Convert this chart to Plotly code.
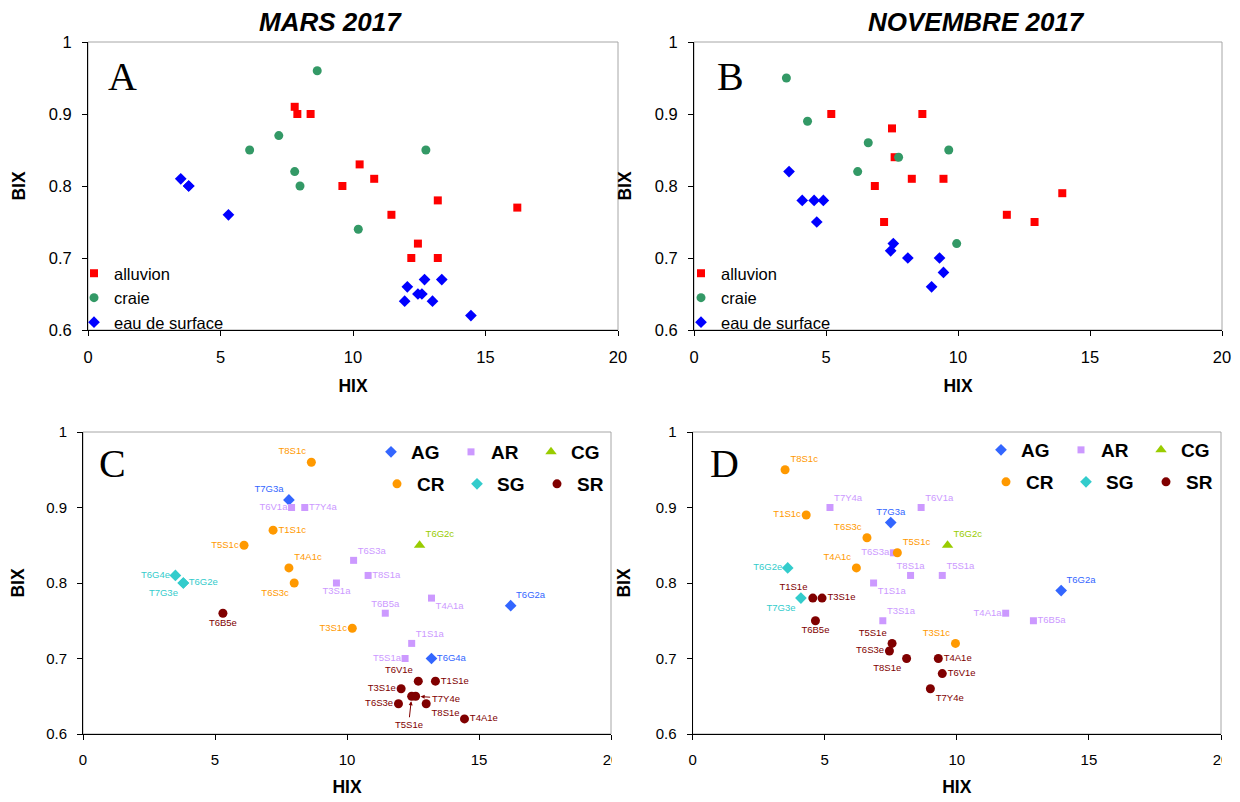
import plotly.graph_objects as go

W, H = 1240, 802
PAGE_OFFSET = 8  # default body margin of the written html page
FONT = "Liberation Sans, Arial, sans-serif"
NARROW = "Liberation Sans Narrow, Arial Narrow, Liberation Sans, Arial, sans-serif"
SERIF = "Liberation Serif, Times New Roman, serif"

# ---- MARS 2017 (HIX, BIX) ----
mars_ag_names = ["T7G3a", "T6G2a", "T6G4a"]
mars_ag_hix = [7.8, 16.2, 13.2]
mars_ag_bix = [0.91, 0.77, 0.70]

mars_ar_names = ["T6V1a", "T7Y4a", "T6S3a", "T8S1a", "T3S1a", "T6B5a", "T4A1a", "T1S1a", "T5S1a"]
mars_ar_hix = [7.9, 8.4, 10.25, 10.8, 9.6, 11.45, 13.2, 12.45, 12.2]
mars_ar_bix = [0.90, 0.90, 0.83, 0.81, 0.80, 0.76, 0.78, 0.72, 0.70]

mars_cg_names = ["T6G2c"]
mars_cg_hix = [12.75]
mars_cg_bix = [0.85]

mars_cr_names = ["T8S1c", "T1S1c", "T5S1c", "T4A1c", "T6S3c", "T3S1c"]
mars_cr_hix = [8.65, 7.2, 6.1, 7.8, 8.0, 10.2]
mars_cr_bix = [0.96, 0.87, 0.85, 0.82, 0.80, 0.74]

mars_sg_names = ["T6G4e", "T6G2e", "T7G3e"]
mars_sg_hix = [3.5, 3.8, 3.8]
mars_sg_bix = [0.81, 0.80, 0.80]

mars_sr_names = ["T6B5e", "T6V1e", "T1S1e", "T3S1e", "T7Y4e", "T5S1e", "T6S3e", "T8S1e", "T4A1e"]
mars_sr_hix = [5.3, 12.7, 13.35, 12.05, 12.6, 12.45, 11.95, 13.0, 14.45]
mars_sr_bix = [0.76, 0.67, 0.67, 0.66, 0.65, 0.65, 0.64, 0.64, 0.62]

# ---- NOVEMBRE 2017 (HIX, BIX) ----
nov_ag_names = ["T7G3a", "T6G2a"]
nov_ag_hix = [7.5, 13.95]
nov_ag_bix = [0.88, 0.79]

nov_ar_names = ["T7Y4a", "T6V1a", "T6S3a", "T8S1a", "T5S1a", "T1S1a", "T3S1a", "T4A1a", "T6B5a"]
nov_ar_hix = [5.2, 8.65, 7.6, 8.25, 9.45, 6.85, 7.2, 11.85, 12.9]
nov_ar_bix = [0.90, 0.90, 0.84, 0.81, 0.81, 0.80, 0.75, 0.76, 0.75]

nov_cg_names = ["T6G2c"]
nov_cg_hix = [9.65]
nov_cg_bix = [0.85]

nov_cr_names = ["T8S1c", "T1S1c", "T6S3c", "T5S1c", "T4A1c", "T3S1c"]
nov_cr_hix = [3.5, 4.3, 6.6, 7.75, 6.2, 9.95]
nov_cr_bix = [0.95, 0.89, 0.86, 0.84, 0.82, 0.72]

nov_sg_names = ["T6G2e", "T7G3e"]
nov_sg_hix = [3.6, 4.1]
nov_sg_bix = [0.82, 0.78]

nov_sr_names = ["T1S1e", "T3S1e", "T6B5e", "T5S1e", "T6S3e", "T8S1e", "T4A1e", "T6V1e", "T7Y4e"]
nov_sr_hix = [4.55, 4.9, 4.65, 7.55, 7.45, 8.1, 9.3, 9.45, 9.0]
nov_sr_bix = [0.78, 0.78, 0.75, 0.72, 0.71, 0.70, 0.70, 0.68, 0.66]

x_ticks = [0, 5, 10, 15, 20]
y_ticks = [0.6, 0.7, 0.8, 0.9, 1.0]
y_ticktext = ["0.6", "0.7", "0.8", "0.9", "1"]

# label placement (style only)
mars_pos = {
    "T7G3a": "top left", "T6G2a": "top right", "T6G4a": "middle right",
    "T6V1a": "middle left", "T7Y4a": "middle right", "T6S3a": "top right",
    "T8S1a": "middle right", "T3S1a": "bottom center", "T6B5a": "top center",
    "T4A1a": "bottom right", "T1S1a": "top right", "T5S1a": "middle left",
    "T6G2c": "top right",
    "T8S1c": "top left", "T1S1c": "middle right", "T5S1c": "middle left",
    "T4A1c": "top right", "T6S3c": "bottom left", "T3S1c": "middle left",
    "T6G4e": "middle left", "T6G2e": "middle right", "T7G3e": "bottom left",
    "T6B5e": "bottom center", "T6V1e": "top left", "T1S1e": "middle right",
    "T3S1e": "middle left", "T6S3e": "middle left", "T8S1e": "bottom right",
    "T4A1e": "middle right",
}
mars_arrows = {"T7Y4e": (30, 2), "T5S1e": (-3, 28)}

nov_pos = {
    "T7G3a": "top center", "T6G2a": "top right",
    "T7Y4a": "top right", "T6V1a": "top right", "T6S3a": "middle left",
    "T8S1a": "top center", "T5S1a": "top right", "T1S1a": "bottom right",
    "T3S1a": "top right", "T4A1a": "middle left", "T6B5a": "middle right",
    "T6G2c": "top right",
    "T8S1c": "top right", "T1S1c": "middle left", "T6S3c": "top left",
    "T5S1c": "top right", "T4A1c": "top left", "T3S1c": "top left",
    "T6G2e": "middle left", "T7G3e": "bottom left",
    "T1S1e": "top left", "T3S1e": "middle right", "T6B5e": "bottom center",
    "T5S1e": "top left", "T6S3e": "middle left", "T8S1e": "bottom left",
    "T4A1e": "middle right", "T6V1e": "middle right", "T7Y4e": "bottom right",
}

COL = {"AG": "#3366FF", "AR": "#CC99FF", "CG": "#99CC00",
       "CR": "#FF9900", "SG": "#33CCCC", "SR": "#800000"}
SYM = {"AG": ("diamond", 9), "AR": ("square", 7), "CG": ("triangle-up", 10),
       "CR": ("circle", 9), "SG": ("diamond", 9), "SR": ("circle", 9)}


def fx(p):
    return (p - PAGE_OFFSET) / W


def fy(p):
    return 1 - (p - PAGE_OFFSET) / H


fig = go.Figure()

# ---- panels A and B: grouped by water type ----
for season, xa, ya, leg in [("mars", "x", "y", "legend"), ("nov", "x2", "y2", "legend2")]:
    g = globals()
    groups = [
        ("alluvion", g[season + "_ag_hix"] + g[season + "_ar_hix"],
         g[season + "_ag_bix"] + g[season + "_ar_bix"], "square", 8, "#FF0000"),
        ("craie", g[season + "_cg_hix"] + g[season + "_cr_hix"],
         g[season + "_cg_bix"] + g[season + "_cr_bix"], "circle", 9, "#339966"),
        ("eau de surface", g[season + "_sg_hix"] + g[season + "_sr_hix"],
         g[season + "_sg_bix"] + g[season + "_sr_bix"], "diamond", 9, "#0000FF"),
    ]
    for name, hx, bx, sym, size, col in groups:
        fig.add_trace(go.Scatter(
            x=hx, y=bx, mode="markers", name=name, xaxis=xa, yaxis=ya,
            marker=dict(symbol=sym, size=size, color=col), legend=leg,
        ))

# ---- panels C and D: individual samples ----
for season, xa, ya, legs, pos in [("mars", "x3", "y3", ("legend3", "legend4"), mars_pos),
                                  ("nov", "x4", "y4", ("legend5", "legend6"), nov_pos)]:
    g = globals()
    for i, grp in enumerate(["AG", "AR", "CG", "CR", "SG", "SR"]):
        names = g[f"{season}_{grp.lower()}_names"]
        hx = g[f"{season}_{grp.lower()}_hix"]
        bx = g[f"{season}_{grp.lower()}_bix"]
        sym, size = SYM[grp]
        fig.add_trace(go.Scatter(
            x=hx, y=bx, mode="markers", name=f"<b>{grp}</b>", xaxis=xa, yaxis=ya,
            marker=dict(symbol=sym, size=size, color=COL[grp]),
            legend=legs[0] if i < 3 else legs[1],
        ))
        # sample labels (invisible marker keeps the text off the point)
        keep = [j for j, n in enumerate(names) if n in pos]
        fig.add_trace(go.Scatter(
            x=[hx[j] for j in keep], y=[bx[j] for j in keep],
            text=[names[j] for j in keep],
            textposition=[pos[names[j]] for j in keep],
            mode="markers+text", xaxis=xa, yaxis=ya, showlegend=False, cliponaxis=False,
            marker=dict(symbol=sym, size=size - 2, opacity=0),
            textfont=dict(family=NARROW, size=9.5, color=COL[grp]),
        ))

annotations = []
# arrowed labels in panel C
for n, (ax, ay) in mars_arrows.items():
    j = mars_sr_names.index(n)
    annotations.append(dict(
        x=mars_sr_hix[j], y=mars_sr_bix[j], xref="x3", yref="y3", text=n,
        showarrow=True, ax=ax, ay=ay, arrowhead=2, arrowsize=0.8, arrowwidth=1,
        arrowcolor=COL["SR"], standoff=5,
        font=dict(family=NARROW, size=9.5, color=COL["SR"]),
    ))

# season titles
for txt, px in [("MARS 2017", 330), ("NOVEMBRE 2017", 976)]:
    annotations.append(dict(x=fx(px), y=fy(22), xref="paper", yref="paper", showarrow=False,
                            xanchor="center", yanchor="middle", text=f"<b><i>{txt}</i></b>",
                            font=dict(family=FONT, size=26, color="black")))

# panel letters
for letter, px, py in [("A", 122, 76), ("B", 730, 76), ("C", 113, 463), ("D", 724, 463)]:
    annotations.append(dict(x=fx(px), y=fy(py), xref="paper", yref="paper", showarrow=False,
                            xanchor="center", yanchor="middle",
                            text=letter, font=dict(family=SERIF, size=40, color="black")))

shapes = []
for xa, ya in [("x", "y"), ("x2", "y2"), ("x3", "y3"), ("x4", "y4")]:
    shapes.append(dict(type="rect", xref=f"{xa} domain", yref=f"{ya} domain",
                       x0=0, x1=1, y0=0, y1=1, line=dict(color="#A6A6A6", width=1), layer="below"))
# cropped "20" labels of the lower panels
shapes.append(dict(type="rect", xref="paper", yref="paper", x0=fx(612), x1=fx(650),
                   y0=fy(775), y1=fy(738), fillcolor="white", line=dict(width=0), layer="above"))
shapes.append(dict(type="rect", xref="paper", yref="paper", x0=fx(1222), x1=1,
                   y0=fy(775), y1=fy(738), fillcolor="white", line=dict(width=0), layer="above"))


def xax(dom, anchor, fam, size, standoff):
    return dict(domain=dom, anchor=anchor, range=[0, 20], tickvals=x_ticks, ticks="outside",
                ticklen=5, tickcolor="black", showgrid=False, zeroline=False, showline=True,
                linecolor="black", linewidth=1, ticklabelstandoff=7, automargin=False,
                tickfont=dict(family=fam, size=size, color="black"),
                title=dict(text="<b>HIX</b>", standoff=standoff,
                           font=dict(family=fam, size=17.5, color="black")))


def yax(dom, anchor, fam, size, standoff):
    return dict(domain=dom, anchor=anchor, range=[0.6, 1.0], tickvals=y_ticks, ticktext=y_ticktext,
                ticks="outside", ticklen=5, tickcolor="black", showgrid=False, zeroline=False,
                showline=True, linecolor="black", linewidth=1, ticklabelstandoff=7, automargin=False,
                tickfont=dict(family=fam, size=size, color="black"),
                title=dict(text="<b>BIX</b>", standoff=standoff,
                           font=dict(family=fam, size=17.5, color="black")))


top_y = [fy(330), fy(42)]
bot_y = [fy(734), fy(432)]


def row_legend(px, py):
    return dict(x=fx(px), y=fy(py), xanchor="left", yanchor="middle", orientation="h",
                entrywidth=35, entrywidthmode="pixels", bgcolor="rgba(0,0,0,0)",
                font=dict(family=NARROW, size=19, color="black"), itemsizing="trace")


def side_legend(px, py):
    return dict(x=fx(px), y=fy(py), xanchor="left", yanchor="middle", bgcolor="rgba(0,0,0,0)",
                font=dict(family=FONT, size=16.5, color="black"), itemsizing="trace")


fig.update_layout(
    width=W, height=H, margin=dict(l=0, r=0, t=0, b=0, autoexpand=False),
    paper_bgcolor="white", plot_bgcolor="white", font=dict(family=FONT, color="black"),
    xaxis=xax([fx(88), fx(618)], "y", FONT, 16.5, 14), yaxis=yax(top_y, "x", FONT, 16.5, 18),
    xaxis2=xax([fx(694), fx(1222)], "y2", FONT, 16.5, 14), yaxis2=yax(top_y, "x2", FONT, 16.5, 18),
    xaxis3=xax([fx(83), fx(611)], "y3", NARROW, 15, 13), yaxis3=yax(bot_y, "x3", NARROW, 15, 20),
    xaxis4=xax([fx(692.6), fx(1221)], "y4", NARROW, 15, 13), yaxis4=yax(bot_y, "x4", NARROW, 15, 20),
    legend=side_legend(74, 298), legend2=side_legend(681, 298),
    legend3=row_legend(371, 452), legend4=row_legend(377, 484),
    legend5=row_legend(981, 450), legend6=row_legend(986, 482),
    annotations=annotations, shapes=shapes,
)

fig.write_html("out.html")
